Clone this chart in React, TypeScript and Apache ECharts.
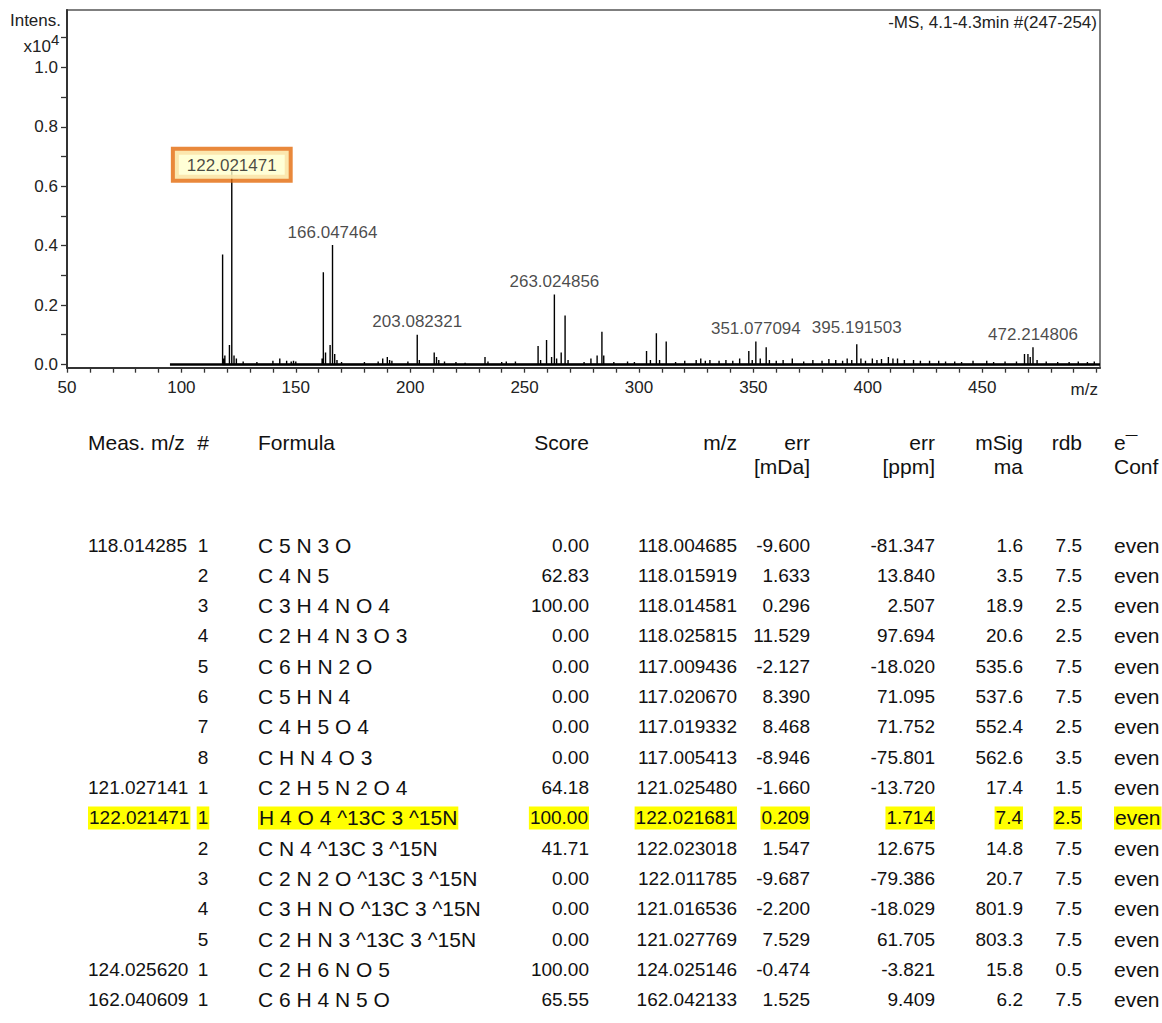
import React, { useEffect, useRef } from "react";
import * as echarts from "echarts";

// ---- Spectrum data (m/z, intensity x10^4) ----
const peakMz = [
  118.01, 118.5, 119.0, 121.0, 122.02, 123.0, 124.03, 127, 133, 140, 143, 146, 148, 149, 150,
  161.5, 162.04, 163, 165.0, 166.05, 167, 168, 170, 180, 186, 188, 190, 191, 192, 199,
  203.08, 204, 210.5, 211.5, 212.5, 215, 220, 224, 232.7, 234, 240, 242, 246,
  255.9, 257, 259.6, 261.8, 263.02, 264, 266, 267.7, 269, 276, 279, 281.7, 283.8, 284.6,
  289, 295, 298, 303.3, 305, 307.6, 309, 311.9, 316, 320, 325, 327, 329, 331, 335, 338,
  341, 344, 348, 349.5, 351.08, 353, 355.6, 357, 360, 363, 367, 372, 376, 380, 383, 386,
  389, 391, 393, 395.19, 397, 399, 402, 404, 406, 409, 411, 413, 416, 420, 423, 427, 431,
  434, 438, 441, 446, 452, 455, 460, 465, 468.5, 470.0, 471.0, 472.21, 474, 478, 483, 488,
  492, 496, 499,
];
const peakInt = [
  0.37, 0.02, 0.03, 0.065, 0.65, 0.03, 0.02, 0.01, 0.008, 0.012, 0.02, 0.012, 0.01, 0.012, 0.01,
  0.02, 0.31, 0.04, 0.065, 0.402, 0.035, 0.015, 0.008, 0.008, 0.01, 0.02, 0.025, 0.015, 0.012, 0.01,
  0.1, 0.015, 0.04, 0.025, 0.015, 0.01, 0.008, 0.006, 0.025, 0.01, 0.008, 0.01, 0.01,
  0.062, 0.015, 0.082, 0.025, 0.235, 0.02, 0.04, 0.165, 0.015, 0.008, 0.02, 0.03, 0.11, 0.03,
  0.008, 0.01, 0.008, 0.045, 0.015, 0.105, 0.015, 0.077, 0.008, 0.012, 0.015, 0.02, 0.012, 0.015, 0.012, 0.015,
  0.012, 0.02, 0.045, 0.015, 0.077, 0.02, 0.058, 0.015, 0.012, 0.015, 0.02, 0.01, 0.015, 0.012, 0.018, 0.015,
  0.012, 0.02, 0.015, 0.068, 0.02, 0.012, 0.02, 0.015, 0.018, 0.025, 0.02, 0.02, 0.015, 0.015, 0.012, 0.012, 0.012,
  0.01, 0.01, 0.008, 0.012, 0.012, 0.008, 0.01, 0.01, 0.035, 0.035, 0.025, 0.058, 0.015, 0.01, 0.008, 0.008,
  0.01, 0.008, 0.01,
];
const baselineRange = [95, 501.5];

const labelMz = [122.021471, 166.047464, 203.082321, 263.024856, 351.077094, 395.191503, 472.214806];
const labelInt = [0.65, 0.402, 0.1, 0.235, 0.077, 0.068, 0.058];
const boxedLabel = "122.021471";

const xTickValues = [50, 60, 70, 80, 90, 100, 110, 120, 130, 140, 150, 160, 170, 180, 190, 200, 210, 220, 230, 240, 250, 260, 270, 280, 290, 300, 310, 320, 330, 340, 350, 360, 370, 380, 390, 400, 410, 420, 430, 440, 450, 460, 470, 480, 490, 500];
const xLabelValues = [50, 100, 150, 200, 250, 300, 350, 400, 450];
const yTickValues = [0, 0.1, 0.2, 0.3, 0.4, 0.5, 0.6, 0.7, 0.8, 0.9, 1.0, 1.1];
const yLabelValues = [0, 0.2, 0.4, 0.6, 0.8, 1.0];

const titleText = "-MS, 4.1-4.3min #(247-254)";

// ---- Table data ----
const measMz = ["118.014285", "", "", "", "", "", "", "", "121.027141", "122.021471", "", "", "", "", "124.025620", "162.040609"];
const rank = ["1", "2", "3", "4", "5", "6", "7", "8", "1", "1", "2", "3", "4", "5", "1", "1"];
const formula = [
  "C 5 N 3 O", "C 4 N 5", "C 3 H 4 N O 4", "C 2 H 4 N 3 O 3", "C 6 H N 2 O", "C 5 H N 4", "C 4 H 5 O 4", "C H N 4 O 3",
  "C 2 H 5 N 2 O 4", "H 4 O 4 ^13C 3 ^15N", "C N 4 ^13C 3 ^15N", "C 2 N 2 O ^13C 3 ^15N", "C 3 H N O ^13C 3 ^15N",
  "C 2 H N 3 ^13C 3 ^15N", "C 2 H 6 N O 5", "C 6 H 4 N 5 O",
];
const score = ["0.00", "62.83", "100.00", "0.00", "0.00", "0.00", "0.00", "0.00", "64.18", "100.00", "41.71", "0.00", "0.00", "0.00", "100.00", "65.55"];
const calcMz = ["118.004685", "118.015919", "118.014581", "118.025815", "117.009436", "117.020670", "117.019332", "117.005413", "121.025480", "122.021681", "122.023018", "122.011785", "121.016536", "121.027769", "124.025146", "162.042133"];
const errMDa = ["-9.600", "1.633", "0.296", "11.529", "-2.127", "8.390", "8.468", "-8.946", "-1.660", "0.209", "1.547", "-9.687", "-2.200", "7.529", "-0.474", "1.525"];
const errPpm = ["-81.347", "13.840", "2.507", "97.694", "-18.020", "71.095", "71.752", "-75.801", "-13.720", "1.714", "12.675", "-79.386", "-18.029", "61.705", "-3.821", "9.409"];
const mSigma = ["1.6", "3.5", "18.9", "20.6", "535.6", "537.6", "552.4", "562.6", "17.4", "7.4", "14.8", "20.7", "801.9", "803.3", "15.8", "6.2"];
const rdb = ["7.5", "7.5", "2.5", "2.5", "7.5", "7.5", "2.5", "3.5", "1.5", "2.5", "7.5", "7.5", "7.5", "7.5", "0.5", "7.5"];
const eConf = ["even", "even", "even", "even", "even", "even", "even", "even", "even", "even", "even", "even", "even", "even", "even", "even"];
const highlightRow = 9;

const headerLine1 = ["Meas. m/z", "#", "Formula", "Score", "m/z", "err", "err", "mSig", "rdb", "e\u00AF"];
const headerLine2 = ["", "", "", "", "", "[mDa]", "[ppm]", "ma", "", "Conf"];

const FONT = "'Liberation Sans', Arial, Helvetica, sans-serif";

export default function App() {
  const ref = useRef<HTMLDivElement>(null);

  useEffect(() => {
    if (!ref.current) return;
    const chart = echarts.init(ref.current, null, { renderer: "svg" });

    // stick spectrum built from peak arrays
    const order = peakMz.map((_, i) => i).sort((a, b) => peakMz[a] - peakMz[b]);
    const stickData: number[][] = [];
    order.forEach((i) => {
      stickData.push([peakMz[i], 0], [peakMz[i], peakInt[i]], [peakMz[i], 0]);
    });

    const labelData = labelMz.map((m, i) => {
      const name = m.toFixed(6);
      const item: any = { value: [m, labelInt[i]], name };
      if (name === boxedLabel) {
        item.label = {
          show: true,
          position: "top",
          distance: -8,
          backgroundColor: "#FFFFCC",
          borderColor: "#E36A0A",
          borderWidth: 4,
          padding: [6, 12, 5, 12],
          lineHeight: 17,
        };
      } else if (i === 5) {
        item.label = { distance: 8 };
      }
      return item;
    });

    const columns = [
      { data: measMz, x: 88, align: "left", size: 19 },
      { data: rank, x: 203, align: "center", size: 19 },
      { data: formula, x: 258, align: "left", size: 21 },
      { data: score, x: 589, align: "right", size: 19 },
      { data: calcMz, x: 737, align: "right", size: 19 },
      { data: errMDa, x: 810, align: "right", size: 19 },
      { data: errPpm, x: 935, align: "right", size: 19 },
      { data: mSigma, x: 1023, align: "right", size: 19 },
      { data: rdb, x: 1082, align: "right", size: 19 },
      { data: eConf, x: 1114, align: "left", size: 21 },
    ];

    const graphics: any[] = [];
    const addText = (text: string, x: number, y: number, align: string, size: number, extra: any = {}) => {
      if (!text) return;
      graphics.push({
        type: "text",
        x,
        y,
        silent: true,
        z: 10,
        style: {
          text,
          fill: "#111",
          font: `${size}px ${FONT}`,
          align,
          verticalAlign: "middle",
          ...extra,
        },
      });
    };

    // headers
    columns.forEach((c, ci) => {
      addText(headerLine1[ci], c.x, 442, c.align, 21);
      addText(headerLine2[ci], c.x, 466, c.align, 21);
    });
    // rows
    columns.forEach((c) => {
      c.data.forEach((t, ri) => {
        const y = 545 + ri * 30.33;
        const extra =
          ri === highlightRow
            ? { backgroundColor: "#FFFF00", padding: [1, 1, 1, 1], lineHeight: 21 }
            : {};
        addText(t, c.x, y, c.align, c.size, extra);
      });
    });

    // plot texts
    addText("Intens.", 61, 20, "right", 17, { fill: "#222" });
    addText("x10", 51, 46, "right", 17, { fill: "#222" });
    addText("4", 51, 39, "left", 15, { fill: "#222" });
    addText(titleText, 1097, 22, "right", 17, { fill: "#222" });
    addText("m/z", 1098, 389, "right", 17, { fill: "#222" });

    chart.setOption({
      animation: false,
      backgroundColor: "#fff",
      grid: {
        left: 67,
        top: 10,
        width: 1033,
        height: 357.7,
        show: true,
        borderColor: "#555",
        borderWidth: 1.5,
        backgroundColor: "transparent",
      },
      xAxis: {
        type: "value",
        min: 50,
        max: 501.5,
        axisLine: { show: true, onZero: false, lineStyle: { color: "#333", width: 2 } },
        axisTick: { show: true, length: 5, customValues: xTickValues, lineStyle: { color: "#333", width: 1.3 } },
        axisLabel: {
          show: true,
          customValues: xLabelValues,
          margin: 11,
          color: "#222",
          fontSize: 17,
          fontFamily: FONT,
        },
        splitLine: { show: false },
      },
      yAxis: {
        type: "value",
        min: -0.011,
        max: 1.193,
        axisLine: { show: true, onZero: false, lineStyle: { color: "#333", width: 2 } },
        axisTick: { show: true, length: 6, customValues: yTickValues, lineStyle: { color: "#333", width: 1.3 } },
        axisLabel: {
          show: true,
          customValues: yLabelValues,
          formatter: (v: number) => v.toFixed(1),
          margin: 9,
          color: "#222",
          fontSize: 17,
          fontFamily: FONT,
        },
        splitLine: { show: false },
      },
      series: [
        {
          type: "line",
          data: [[baselineRange[0], 0], [baselineRange[1], 0]],
          symbol: "none",
          silent: true,
          lineStyle: { color: "#000", width: 2.6 },
          z: 2,
        },
        {
          type: "line",
          data: stickData,
          symbol: "none",
          silent: true,
          lineStyle: { color: "#000", width: 1.4 },
          z: 3,
        },
        {
          type: "scatter",
          data: labelData,
          symbolSize: 1,
          silent: true,
          itemStyle: { color: "rgba(0,0,0,0)" },
          z: 5,
          label: {
            show: true,
            position: "top",
            distance: 4,
            formatter: (p: any) => p.name,
            color: "#1a1a1a",
            fontSize: 17,
            fontFamily: FONT,
          },
        },
      ],
      graphic: graphics,
    });

    return () => chart.dispose();
  }, []);

  return (
    <div
      ref={ref}
      style={{ position: "absolute", left: 0, top: 0, width: 1162, height: 1023, background: "#fff" }}
    />
  );
}
